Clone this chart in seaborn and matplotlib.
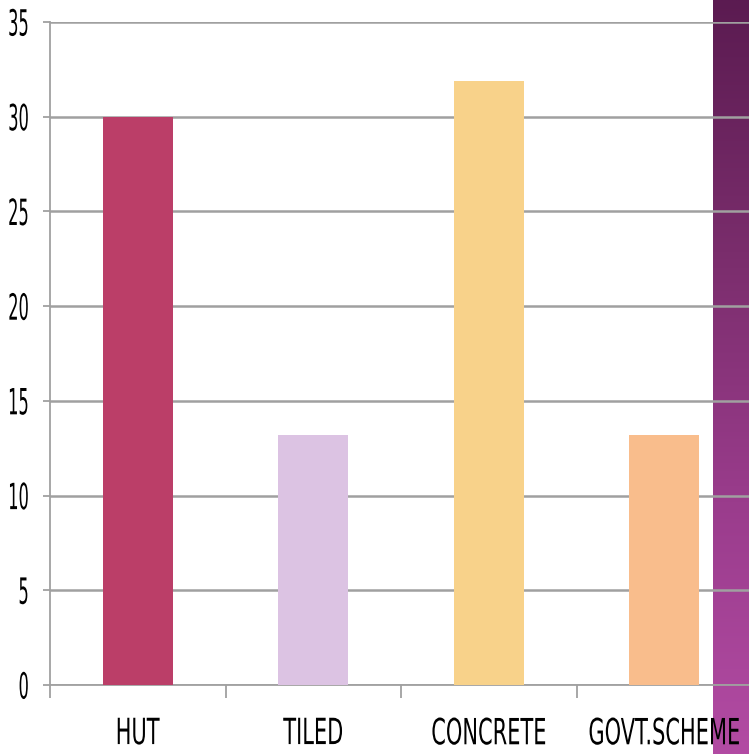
import matplotlib
matplotlib.use("Agg")
import matplotlib.pyplot as plt
import numpy as np
import pandas as pd
import seaborn as sns
from matplotlib.colors import LinearSegmentedColormap
from matplotlib.patheffects import AbstractPathEffect
from matplotlib.transforms import Affine2D

categories = ["HUT", "TILED", "CONCRETE", "GOVT.SCHEME"]
values = [30, 13.2, 31.9, 13.2]
bar_colors = ["#bb3e68", "#dcc3e3", "#f8d28a", "#f9bd8c"]


class Stretch(AbstractPathEffect):
    # the original uses a tall narrow font, so stretch DejaVu glyphs to look alike
    def __init__(self, sx, sy, xanchor="center", yanchor="center"):
        super().__init__()
        self.sx, self.sy = sx, sy
        self.xanchor, self.yanchor = xanchor, yanchor

    def draw_path(self, renderer, gc, tpath, affine, rgbFace=None):
        ext = tpath.get_extents()
        cx = ext.x1 if self.xanchor == "right" else (ext.x0 + ext.x1) / 2
        cy = ext.y1 if self.yanchor == "top" else (ext.y0 + ext.y1) / 2
        tr = Affine2D().translate(-cx, -cy).scale(self.sx, self.sy).translate(cx, cy)
        renderer.draw_path(gc, tpath, tr + affine, rgbFace)


sns.set_style("white")
plt.rcParams["font.family"] = ["DejaVu Sans"]

df = pd.DataFrame({"cat": categories, "val": values})

fig = plt.figure(figsize=(7.49, 7.54), dpi=100)
fig.patch.set_facecolor("white")

# purple side strip behind the chart
strip = fig.add_axes([713 / 749, 0, 36 / 749, 1], zorder=0)
grad = np.linspace(0, 1, 256).reshape(-1, 1)
cmap = LinearSegmentedColormap.from_list("strip", ["#5b1b51", "#7a2d6c", "#9a3c8c", "#b24ba3"])
strip.imshow(grad, aspect="auto", cmap=cmap, extent=[0, 1, 1, 0])
strip.set_axis_off()

ax = fig.add_axes([50 / 749, 1 - 685 / 754, 702 / 749, (685 - 22) / 754], zorder=1)
ax.patch.set_alpha(0)
sns.barplot(data=df, x="cat", y="val", hue="cat", palette=bar_colors, saturation=1,
            width=0.4, legend=False, ax=ax, linewidth=0, zorder=3)

ax.set_ylim(0, 35)
ax.set_xlim(-0.5, 3.5)
ax.set_yticks(range(0, 36, 5))
ax.yaxis.grid(True, color="#a0a0a0", linewidth=1.8)
ax.set_axisbelow(True)
ax.set_xlabel("")
ax.set_ylabel("")

for s in ["top", "right"]:
    ax.spines[s].set_visible(False)
for s in ["left", "bottom"]:
    ax.spines[s].set_color("#a0a0a0")
    ax.spines[s].set_linewidth(1.3)

fs = 15
ax.tick_params(axis="y", length=5, width=1.3, color="#a0a0a0", labelsize=fs,
               labelcolor="black", pad=10, left=True)
ax.tick_params(axis="x", which="major", length=0, labelsize=fs, labelcolor="black", pad=23)
ax.set_xticks([-0.5, 0.5, 1.5, 2.5], minor=True)
ax.tick_params(axis="x", which="minor", length=9, width=1.3, color="#a0a0a0", bottom=True)

sy = 26 / fs
for lab in ax.get_yticklabels():
    lab.set_path_effects([Stretch(0.45 * sy, sy, "right", "center")])
for lab in ax.get_xticklabels():
    lab.set_path_effects([Stretch(0.58 * sy, sy, "center", "top")])

fig.savefig("out.png", dpi=100)
